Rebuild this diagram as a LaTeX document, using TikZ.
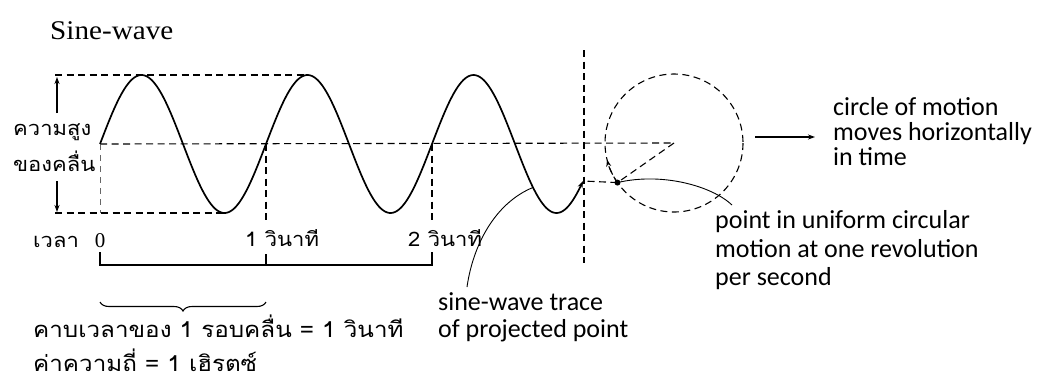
\documentclass[tikz,border=0pt]{standalone}
\usepackage{fontspec}
\setmainfont{Liberation Serif}
\newfontfamily\thaifont[Script=Thai,FakeStretch=1.1]{Loma}
\newfontfamily\engfont{Carlito}
\newfontfamily\titlefont[FakeStretch=1.08]{Liberation Serif}
\usetikzlibrary{arrows.meta,decorations.pathreplacing,calc}
\begin{document}
\begin{tikzpicture}[x=1pt,y=-1pt,
  dsh/.style={line width=1.1pt, dash pattern=on 7pt off 4.5pt},
  fdsh/.style={line width=0.7pt, dash pattern=on 6pt off 5pt, black!60},
  wave/.style={line width=1.7pt},
  solidl/.style={line width=1.1pt},
  lead/.style={line width=0.9pt},
  thai/.style={font=\thaifont\fontsize{20}{20}\selectfont, inner sep=0pt, anchor=base west},
  thaib/.style={font=\thaifont\fontsize{22}{22}\selectfont, inner sep=0pt, anchor=base west},
  eng/.style={font=\engfont\fontsize{26}{26}\selectfont, inner sep=0pt, anchor=base west},
  ttl/.style={font=\titlefont\fontsize{27}{27}\selectfont, inner sep=0pt, anchor=base west},
  num/.style={font=\fontsize{21}{21}\selectfont, inner sep=0pt, anchor=base},
  tip/.style={-{Stealth[length=7pt,width=5pt]}}
]
\useasboundingbox (0,0) rectangle (1043,384);
% key points
\coordinate (O) at (100,144);
\coordinate (S1) at (266,144);
\coordinate (S2) at (432,144);
\coordinate (C) at (674,143);
\coordinate (E) at (583,181);
\coordinate (P) at ($(C)+(145:69)$);
% dashed guide lines
\draw[dsh] (55,75) -- (308,75);
\draw[dsh] (55,213) -- (225,213);
\draw[dsh] (O) -- (C);
\draw[fdsh] (O) -- (100,213);
\draw[dsh] (S1) -- (266,224);
\draw[dsh] (S2) -- (432,224);
\draw[dsh] (584,50) -- (584,263);
\draw[dsh] (C) -- (P);
\draw[dsh] (P) -- (E);
% circle
\draw[dsh] (C) circle[radius=69];
\draw[dsh, tip] (P) arc[start angle=145, end angle=166, radius=69];
\fill (P) circle[radius=3];
% sine wave
\draw[wave, tip] plot[domain=100:583, samples=240, smooth] (\x,{144-69*sin(2.168675*(\x-100))});
% height arrows
\draw[solidl, tip] (57,113) -- (57,77);
\draw[solidl, tip] (57,181) -- (57,212);
% time bracket
\draw[solidl] (100,252) -- (100,265) -- (432,265) -- (432,252);
\draw[solidl] (266,254) -- (266,265);
\draw[solidl, decorate, decoration={brace, mirror, amplitude=9pt}] (100,302) -- (266,302);
% arrow right
\draw[line width=1.2pt, tip] (755,137) -- (815,137);
% texts
\node[ttl] (title) at (50,39) {Sine-wave};
\node[thai] (h1) at (13,135) {ความสูง};
\node[thai] (h2) at (13,171) {ของคลื่น};
\node[thai] (tl) at (33,247) {เวลา};
\node[num] (t0) at (100,247) {0};
\node[thai] (t1) at (245,246) {1 วินาที};
\node[thai] (t2) at (408,246) {2 วินาที};
\node[thaib] (per) at (33,337) {คาบเวลาของ 1 รอบคลื่น = 1 วินาที};
\node[thaib] (freq) at (33,371) {ค่าความถี่ = 1 เฮิรตซ์};
\node[eng] (sw1) at (438,310) {sine-wave trace};
\node[eng] (sw2) at (438,337) {of projected point};
\node[eng] (c1) at (833,115) {circle of motion};
\node[eng] (c2) at (833,140) {moves horizontally};
\node[eng] (c3) at (833,165) {in time};
\node[eng] (p1) at (715,228) {point in uniform circular};
\node[eng] (p2) at (715,257) {motion at one revolution};
\node[eng] (p3) at (715,285) {per second};
% leaders
\coordinate (W) at (533,{144-69*sin(2.168675*433)});
\coordinate (L1) at (467,287);
\coordinate (L2) at (732,205);
\draw[lead] (L1) .. controls (473,245) and (495,203) .. (W);
\draw[lead] (L2) .. controls (712,186) and (662,172) .. (P);
\end{tikzpicture}
\end{document}
